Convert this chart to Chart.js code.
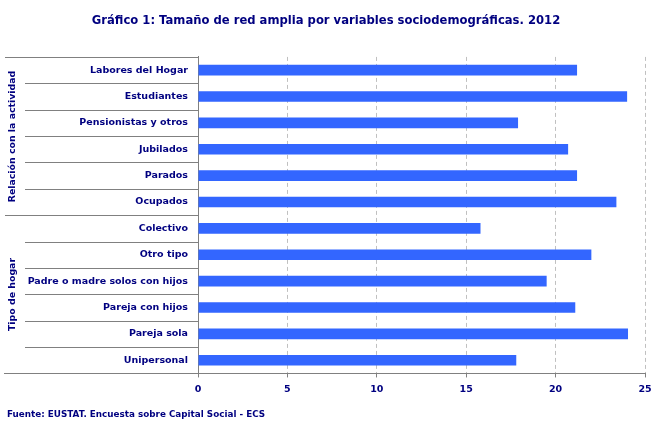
<!DOCTYPE html>
<html>
<head>
<meta charset="utf-8">
<script src="https://cdn.jsdelivr.net/npm/chart.js@4/dist/chart.umd.min.js"></script>
<style>
  html, body { margin: 0; padding: 0; background: #fff; }
  #wrap { width: 663px; height: 433px; }
</style>
</head>
<body>
<div id="wrap"><canvas id="chart" width="663" height="433"></canvas></div>
<script>
const categories = [
    'Labores del Hogar', 'Estudiantes', 'Pensionistas y otros', 'Jubilados', 'Parados', 'Ocupados',
    'Colectivo', 'Otro tipo', 'Padre o madre solos con hijos', 'Pareja con hijos', 'Pareja sola', 'Unipersonal'
];
const networkSize = [21.2, 24.0, 17.9, 20.7, 21.2, 23.4, 15.8, 22.0, 19.5, 21.1, 24.05, 17.8];
const groupNames = ['Relación con la actividad', 'Tipo de hogar'];
const groupSizes = [6, 6];
const xTicks = [0, 5, 10, 15, 20, 25];

const navy = '#000080';
const lineGray = '#808080';
const font = 'DejaVu Sans';

// separators between rows and the rotated group labels on the left
const groupPlugin = {
    id: 'groups',
    afterDraw(chart) {
        const c = chart.ctx;
        const y = chart.scales.y;
        const area = chart.chartArea;
        const step = y.getPixelForValue(1) - y.getPixelForValue(0);
        const edge = k => Math.round(y.getPixelForValue(k) - step / 2) + 0.5;

        const groupStarts = [0];
        groupSizes.forEach((s, i) => groupStarts.push(groupStarts[i] + s));

        c.save();
        c.strokeStyle = lineGray;
        c.lineWidth = 1;
        for (let k = 0; k <= categories.length; k++) {
            const isGroup = groupStarts.includes(k);
            const x0 = k === categories.length ? 4 : (isGroup ? 5 : 25);
            c.beginPath();
            c.moveTo(x0, edge(k));
            c.lineTo(area.left, edge(k));
            c.stroke();
        }

        c.fillStyle = navy;
        c.font = 'bold 9.4px "' + font + '"';
        c.textAlign = 'center';
        c.textBaseline = 'middle';
        groupNames.forEach((name, i) => {
            const mid = (edge(groupStarts[i]) + edge(groupStarts[i + 1])) / 2;
            c.save();
            c.translate(13, mid);
            c.rotate(-Math.PI / 2);
            c.fillText(name, 0, 0);
            c.restore();
        });
        c.restore();
    }
};

new Chart(document.getElementById('chart'), {
    type: 'bar',
    data: {
        labels: categories,
        datasets: [{
            data: networkSize,
            backgroundColor: '#3366FF',
            borderWidth: 0,
            barPercentage: 0.4,
            categoryPercentage: 1
        }]
    },
    options: {
        indexAxis: 'y',
        responsive: false,
        animation: false,
        layout: { padding: { left: 7, right: 18, top: 0, bottom: 0 } },
        plugins: {
            legend: { display: false },
            tooltip: { enabled: false },
            title: {
                display: true,
                text: 'Gráfico 1: Tamaño de red amplia por variables sociodemográficas. 2012',
                color: navy,
                font: { family: font, size: 11.6, weight: 'bold' },
                padding: { top: 14, bottom: 29 }
            },
            subtitle: {
                display: true,
                position: 'bottom',
                align: 'start',
                text: 'Fuente: EUSTAT. Encuesta sobre Capital Social - ECS',
                color: navy,
                font: { family: font, size: 8.8, weight: 'bold' },
                padding: { top: 10, bottom: 13 }
            }
        },
        scales: {
            x: {
                min: 0,
                max: 25,
                afterBuildTicks: s => { s.ticks = xTicks.map(v => ({ value: v })); },
                afterFit: s => { s.height = 26; },
                grid: {
                    color: '#C0C0C0',
                    tickColor: lineGray,
                    tickLength: 4
                },
                border: { display: true, color: lineGray, dash: [4, 3] },
                ticks: {
                    color: navy,
                    padding: 6,
                    font: { family: font, size: 9.5, weight: 'bold' }
                }
            },
            y: {
                afterFit: s => { s.width = 191; },
                grid: { display: false, drawTicks: false },
                border: { display: true, color: lineGray },
                ticks: {
                    color: navy,
                    padding: 10,
                    autoSkip: false,
                    font: { family: font, size: 9.5, weight: 'bold' }
                }
            }
        }
    },
    plugins: [groupPlugin]
});
</script>
</body>
</html>
